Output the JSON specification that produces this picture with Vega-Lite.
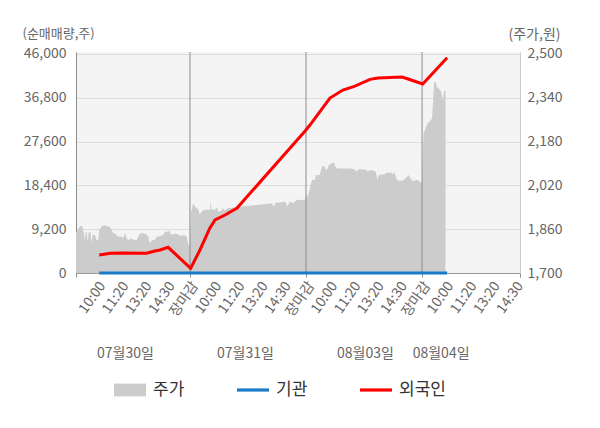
{
  "$schema": "https://vega.github.io/schema/vega-lite/v6.json",
  "width": 444,
  "height": 221,
  "autosize": {"type": "none"},
  "padding": {"left": 76, "top": 52, "right": 80, "bottom": 155},
  "config": {
    "font": "Noto Sans CJK KR",
    "view": {"fill": "#f4f4f4", "stroke": null},
    "axis": {"labelColor": "#666666", "labelFontSize": 14, "titleColor": "#666666", "titleFontSize": 13, "titleFontWeight": "normal"}
  },
  "datasets": {
    "price": [
      {"s": 0.09, "p": 1849}, {"s": 0.2, "p": 1862}, {"s": 0.26, "p": 1871}, {"s": 0.35, "p": 1873},
      {"s": 0.4, "p": 1856}, {"s": 0.45, "p": 1836}, {"s": 0.47, "p": 1815}, {"s": 0.5, "p": 1850},
      {"s": 0.55, "p": 1848}, {"s": 0.6, "p": 1813}, {"s": 0.64, "p": 1850}, {"s": 0.72, "p": 1848},
      {"s": 0.76, "p": 1807}, {"s": 0.8, "p": 1838}, {"s": 0.9, "p": 1840}, {"s": 0.98, "p": 1820},
      {"s": 1.05, "p": 1822}, {"s": 1.09, "p": 1856}, {"s": 1.19, "p": 1870}, {"s": 1.3, "p": 1874},
      {"s": 1.41, "p": 1872}, {"s": 1.55, "p": 1868}, {"s": 1.62, "p": 1856}, {"s": 1.7, "p": 1846},
      {"s": 1.77, "p": 1844}, {"s": 1.85, "p": 1838}, {"s": 1.91, "p": 1832}, {"s": 2.0, "p": 1834},
      {"s": 2.13, "p": 1828}, {"s": 2.2, "p": 1848}, {"s": 2.25, "p": 1830}, {"s": 2.34, "p": 1820},
      {"s": 2.45, "p": 1826}, {"s": 2.55, "p": 1822}, {"s": 2.7, "p": 1820}, {"s": 2.84, "p": 1844},
      {"s": 3.0, "p": 1846}, {"s": 3.13, "p": 1840}, {"s": 3.2, "p": 1832}, {"s": 3.28, "p": 1808},
      {"s": 3.35, "p": 1820}, {"s": 3.5, "p": 1822}, {"s": 3.56, "p": 1832}, {"s": 3.7, "p": 1834},
      {"s": 3.85, "p": 1840}, {"s": 3.92, "p": 1850}, {"s": 4.05, "p": 1852}, {"s": 4.11, "p": 1856},
      {"s": 4.18, "p": 1840}, {"s": 4.35, "p": 1843}, {"s": 4.5, "p": 1842}, {"s": 4.57, "p": 1836},
      {"s": 4.75, "p": 1838}, {"s": 4.86, "p": 1834}, {"s": 4.93, "p": 1801}, {"s": 4.99, "p": 1801},
      {"s": 5.04, "p": 1919}, {"s": 5.14, "p": 1955}, {"s": 5.21, "p": 1943}, {"s": 5.29, "p": 1937},
      {"s": 5.36, "p": 1931}, {"s": 5.43, "p": 1913}, {"s": 5.5, "p": 1925}, {"s": 5.64, "p": 1931},
      {"s": 5.86, "p": 1931}, {"s": 5.9, "p": 1964}, {"s": 5.93, "p": 1931}, {"s": 6.1, "p": 1933},
      {"s": 6.15, "p": 1941}, {"s": 6.22, "p": 1925}, {"s": 6.36, "p": 1927}, {"s": 6.4, "p": 1937},
      {"s": 6.5, "p": 1929}, {"s": 6.65, "p": 1937}, {"s": 6.94, "p": 1938}, {"s": 7.23, "p": 1943},
      {"s": 7.66, "p": 1947}, {"s": 8.09, "p": 1950}, {"s": 8.52, "p": 1955}, {"s": 8.6, "p": 1943},
      {"s": 8.7, "p": 1957}, {"s": 8.95, "p": 1958}, {"s": 9.1, "p": 1961}, {"s": 9.2, "p": 1943},
      {"s": 9.3, "p": 1961}, {"s": 9.45, "p": 1955}, {"s": 9.6, "p": 1967}, {"s": 9.96, "p": 1968},
      {"s": 10.0, "p": 1991}, {"s": 10.06, "p": 1977}, {"s": 10.14, "p": 1997}, {"s": 10.2, "p": 2022},
      {"s": 10.26, "p": 2040}, {"s": 10.39, "p": 2041}, {"s": 10.42, "p": 2058}, {"s": 10.6, "p": 2058},
      {"s": 10.64, "p": 2076}, {"s": 10.7, "p": 2090}, {"s": 10.8, "p": 2090}, {"s": 10.84, "p": 2078},
      {"s": 10.92, "p": 2079}, {"s": 10.95, "p": 2090}, {"s": 11.05, "p": 2098}, {"s": 11.2, "p": 2105},
      {"s": 11.27, "p": 2088}, {"s": 11.35, "p": 2082}, {"s": 11.89, "p": 2082}, {"s": 12.1, "p": 2079},
      {"s": 12.15, "p": 2070}, {"s": 12.28, "p": 2079}, {"s": 12.6, "p": 2077}, {"s": 12.65, "p": 2070},
      {"s": 12.78, "p": 2076}, {"s": 13.0, "p": 2071}, {"s": 13.08, "p": 2042}, {"s": 13.14, "p": 2058},
      {"s": 13.4, "p": 2061}, {"s": 13.45, "p": 2066}, {"s": 13.7, "p": 2066}, {"s": 13.74, "p": 2060},
      {"s": 13.8, "p": 2067}, {"s": 13.86, "p": 2054}, {"s": 13.92, "p": 2040}, {"s": 14.05, "p": 2036},
      {"s": 14.22, "p": 2040}, {"s": 14.42, "p": 2058}, {"s": 14.5, "p": 2046}, {"s": 14.6, "p": 2036},
      {"s": 14.8, "p": 2040}, {"s": 14.9, "p": 2034}, {"s": 15.0, "p": 2028}, {"s": 15.06, "p": 2211},
      {"s": 15.13, "p": 2223}, {"s": 15.24, "p": 2247}, {"s": 15.33, "p": 2253}, {"s": 15.43, "p": 2265},
      {"s": 15.48, "p": 2332}, {"s": 15.52, "p": 2399}, {"s": 15.6, "p": 2396}, {"s": 15.63, "p": 2380},
      {"s": 15.72, "p": 2374}, {"s": 15.82, "p": 2362}, {"s": 15.9, "p": 2332}, {"s": 15.95, "p": 2365},
      {"s": 16.01, "p": 2365}
    ],
    "flow": [
      {"s": 1.09, "series": "외국인", "v": 3783}, {"s": 1.58, "series": "외국인", "v": 4136},
      {"s": 2.08, "series": "외국인", "v": 4197}, {"s": 3.13, "series": "외국인", "v": 4136},
      {"s": 3.49, "series": "외국인", "v": 4621}, {"s": 3.71, "series": "외국인", "v": 4833},
      {"s": 4.06, "series": "외국인", "v": 5398}, {"s": 5.03, "series": "외국인", "v": 989},
      {"s": 5.43, "series": "외국인", "v": 4833}, {"s": 5.86, "series": "외국인", "v": 9453},
      {"s": 6.08, "series": "외국인", "v": 11128}, {"s": 6.51, "series": "외국인", "v": 12177},
      {"s": 7.03, "series": "외국인", "v": 13650}, {"s": 9.98, "series": "외국인", "v": 29924},
      {"s": 10.17, "series": "외국인", "v": 31074}, {"s": 11.03, "series": "외국인", "v": 36744},
      {"s": 11.59, "series": "외국인", "v": 38429}, {"s": 12.11, "series": "외국인", "v": 39266},
      {"s": 12.76, "series": "외국인", "v": 40679}, {"s": 13.1, "series": "외국인", "v": 40951},
      {"s": 14.14, "series": "외국인", "v": 41163}, {"s": 14.4, "series": "외국인", "v": 40739},
      {"s": 15.03, "series": "외국인", "v": 39690}, {"s": 16.08, "series": "외국인", "v": 45229},
      {"s": 1.09, "series": "기관", "v": 0}, {"s": 2.08, "series": "기관", "v": 0},
      {"s": 3.13, "series": "기관", "v": 0}, {"s": 4.06, "series": "기관", "v": 0},
      {"s": 5.03, "series": "기관", "v": 0}, {"s": 6.08, "series": "기관", "v": 0},
      {"s": 7.03, "series": "기관", "v": 0}, {"s": 9.98, "series": "기관", "v": 0},
      {"s": 11.03, "series": "기관", "v": 0}, {"s": 12.11, "series": "기관", "v": 0},
      {"s": 13.1, "series": "기관", "v": 0}, {"s": 14.14, "series": "기관", "v": 0},
      {"s": 15.03, "series": "기관", "v": 0}, {"s": 16.08, "series": "기관", "v": 0}
    ],
    "days": [{"s": 5}, {"s": 10}, {"s": 15}]
  },
  "layer": [
    {
      "data": {"name": "price"},
      "mark": {"type": "area", "color": "#cccccc", "clip": true},
      "encoding": {
        "x": {
          "field": "s", "type": "quantitative",
          "scale": {"domain": [0.09, 19.22], "nice": false, "zero": false},
          "axis": {
            "orient": "bottom", "title": null, "domain": false, "ticks": false, "grid": false,
            "values": [1, 2, 3, 4, 5, 6, 7, 8, 9, 10, 11, 12, 13, 14, 15, 16, 17, 18, 19],
            "labelAngle": -55, "labelPadding": 10, "labelFontSize": 14, "labelOffset": 5,
            "labelOverlap": false, "labelFlush": false, "labelBound": false,
            "labelExpr": "datum.value % 5 == 0 ? '장마감' : ['', '10:00', '11:20', '13:20', '14:30'][datum.value % 5]",
            "encode": {"labels": {"update": {"fill": {"signal": "datum.value % 5 == 0 ? '#ff0000' : datum.value == 16 ? '#111111' : '#666666'"}}}}
          }
        },
        "y": {
          "field": "p", "type": "quantitative",
          "scale": {"domain": [1700, 2507.3], "nice": false, "zero": false},
          "axis": {
            "orient": "right", "title": "(주가,원)", "titleAngle": 0, "titleX": 40, "titleY": -18,
            "titleAlign": "right", "titleBaseline": "middle", "titleFontSize": 14,
            "values": [1700, 1860, 2020, 2180, 2340, 2500], "format": ",.0f",
            "ticks": false, "labelPadding": 7, "domainColor": "#cccccc", "grid": false
          }
        }
      }
    },
    {
      "data": {"name": "days"},
      "mark": {"type": "rule", "color": "#8c8c8c", "strokeWidth": 1},
      "encoding": {
        "x": {
          "field": "s", "type": "quantitative",
          "scale": {"domain": [0.09, 19.22], "nice": false, "zero": false},
          "axis": {
            "orient": "bottom", "title": null, "domain": false, "ticks": false, "grid": false,
            "values": [2.2, 7.37, 12.54, 15.8], "labelAngle": 0, "labelPadding": 80,
            "labelAlign": "center", "labelBaseline": "middle", "labelOverlap": false,
            "labelExpr": "datum.value < 5 ? '07월30일' : datum.value < 10 ? '07월31일' : datum.value < 15 ? '08월03일' : '08월04일'"
          }
        }
      }
    },
    {
      "data": {"name": "flow"},
      "mark": {"type": "line", "strokeWidth": 3},
      "encoding": {
        "x": {
          "field": "s", "type": "quantitative",
          "scale": {"domain": [0.09, 19.22], "nice": false, "zero": false},
          "axis": {
            "orient": "bottom", "title": null, "labels": false, "grid": false,
            "values": [0.09, 5, 10, 15, 19.22], "tickSize": 4, "tickColor": "#8c8c8c", "domainColor": "#999999"
          }
        },
        "y": {
          "field": "v", "type": "quantitative",
          "scale": {"domain": [0, 46420], "nice": false},
          "axis": {
            "orient": "left", "title": "(순매매량,주)", "titleAngle": 0, "titleX": -54, "titleY": -19,
            "titleAlign": "left", "titleBaseline": "middle",
            "values": [0, 9200, 18400, 27600, 36800, 46000], "format": ",.0f",
            "ticks": false, "labelPadding": 10, "domainColor": "#8c8c8c",
            "grid": true, "gridColor": "#dddddd"
          }
        },
        "color": {
          "field": "series", "type": "nominal",
          "scale": {"domain": ["주가", "기관", "외국인"], "range": ["#cccccc", "#1a7bc8", "#ff0000"]},
          "legend": {
            "orient": "none", "legendX": 38, "legendY": 322, "direction": "horizontal", "title": null,
            "labelFontSize": 17, "labelColor": "#333333", "labelOffset": 7, "columnPadding": 52,
            "symbolSize": 1024,
            "encode": {
              "symbols": {
                "update": {
                  "shape": {"signal": "datum.label == '주가' ? 'M-1,-0.4H1V0.4H-1Z' : 'M-1,-0.1H1V0.1H-1Z'"},
                  "fill": {"signal": "datum.label == '주가' ? '#cccccc' : datum.label == '기관' ? '#1a7bc8' : '#ff0000'"},
                  "stroke": {"value": "transparent"},
                  "strokeWidth": {"value": 0},
                  "opacity": {"value": 1}
                }
              }
            }
          }
        },
        "order": {"field": "s", "type": "quantitative"}
      }
    }
  ],
  "resolve": {
    "scale": {"y": "independent"},
    "axis": {"x": "independent", "y": "independent"}
  }
}
